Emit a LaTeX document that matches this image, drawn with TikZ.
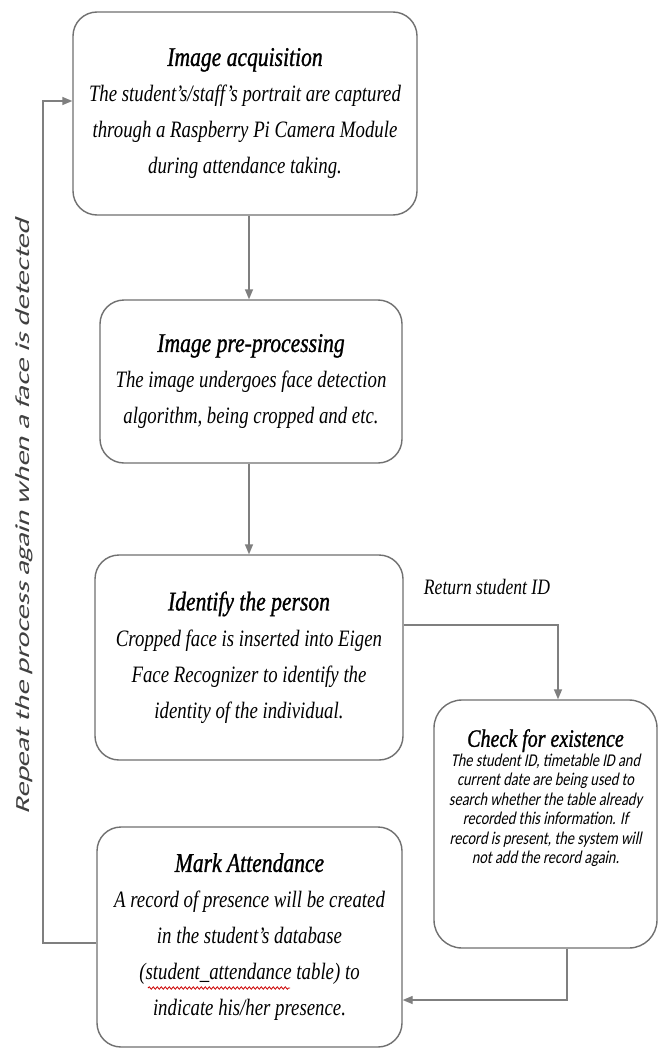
\documentclass[tikz,border=0pt]{standalone}
\usepackage{fontspec}
\usepackage{graphicx}
\usetikzlibrary{arrows.meta,decorations.pathmorphing,calc}
\newfontfamily\serfam{Liberation Serif}[FakeStretch=0.8]
\newfontfamily\serbfam{Liberation Serif}[FakeStretch=0.8, FakeBold=1]
\newfontfamily\sanfam{Carlito}[FakeStretch=0.8, AutoFakeSlant=0.2]
\definecolor{linegray}{HTML}{7F7F7F}
\definecolor{boxgray}{HTML}{707070}
\newcommand\boxtitle[1]{{\serbfam\itshape\fontsize{27}{36}\selectfont #1}}
\begin{document}
\begin{tikzpicture}[x=1pt,y=-1pt,
  box/.style={draw=boxgray, line width=1.4pt, rounded corners=24pt, fill=white, align=center, inner sep=0pt},
  body/.style={font=\serfam\itshape\fontsize{23.5}{36}\selectfont},
  conn/.style={draw=linegray, line width=1.4pt, -{Triangle[length=10pt,width=8pt]}},
]
\fill[white] (0,0) rectangle (659,1051);
\useasboundingbox (0,0) rectangle (659,1051);

\node[box, body, minimum width=344pt, minimum height=203pt] (b1) at (245,113.5)
  {\boxtitle{Image acquisition}\\ The student’s/staff’s portrait are captured\\ through a Raspberry Pi Camera Module\\ during attendance taking.};
\node[box, body, minimum width=302pt, minimum height=163pt] (b2) at (251,381.5)
  {\boxtitle{Image pre-processing}\\ The image undergoes face detection\\ algorithm, being cropped and etc.};
\node[box, body, minimum width=308pt, minimum height=205pt] (b3) at (249,657.5)
  {\boxtitle{Identify the person}\\ Cropped face is inserted into Eigen\\ Face Recognizer to identify the\\ identity of the individual.};
\node[box, rounded corners=28pt, minimum width=223pt, minimum height=248pt] (b4) at (545.5,824) {};
\node[align=center, inner sep=0pt, font=\sanfam\itshape\fontsize{18}{19.5}\selectfont] (b4t) at (545.5,798)
  {{\serbfam\itshape\fontsize{25}{30}\selectfont Check for existence}\\ The student ID, timetable ID and\\ current date are being used to\\ search whether the table already\\ recorded this information. If\\ record is present, the system will\\ not add the record again.};
\node[box, body, minimum width=305pt, minimum height=220pt] (b5) at (249.5,937)
  {\boxtitle{Mark Attendance}\\ A record of presence will be created\\ in the student’s database\\ (student\_attendance table) to\\ indicate his/her presence.};

\node[font=\serfam\itshape\fontsize{22}{22}\selectfont, inner sep=0pt] (lbl) at (487,587) {Return student ID};
\node[rotate=90, inner sep=0pt, text=black!75, font=\sanfam\itshape\fontsize{20}{20}\selectfont] (rep) at (24,517)
  {\resizebox{595pt}{\height}{Repeat the process again when a face is detected}};

\coordinate (ax) at (249,0);
\coordinate (ry) at (0,625);
\coordinate (rx) at (558,0);
\coordinate (dx) at (567,0);
\coordinate (dy) at (0,1000);
\coordinate (lx) at (43,943);
\coordinate (lt) at (0,101);

\draw[conn] (b1.south -| ax) -- (b2.north -| ax);
\draw[conn] (b2.south -| ax) -- (b3.north -| ax);
\draw[conn] (b3.east |- ry) -| (b4.north -| rx);
\draw[conn] (b4.south -| dx) |- (b5.east |- dy);
\draw[conn] (b5.west |- lx) -- (lx) |- (b1.west |- lt);

\draw[red!80!black, line width=0.8pt, decorate, decoration={snake, amplitude=1.2pt, segment length=4pt}] (148,988) -- (290,988);
\end{tikzpicture}
\end{document}
